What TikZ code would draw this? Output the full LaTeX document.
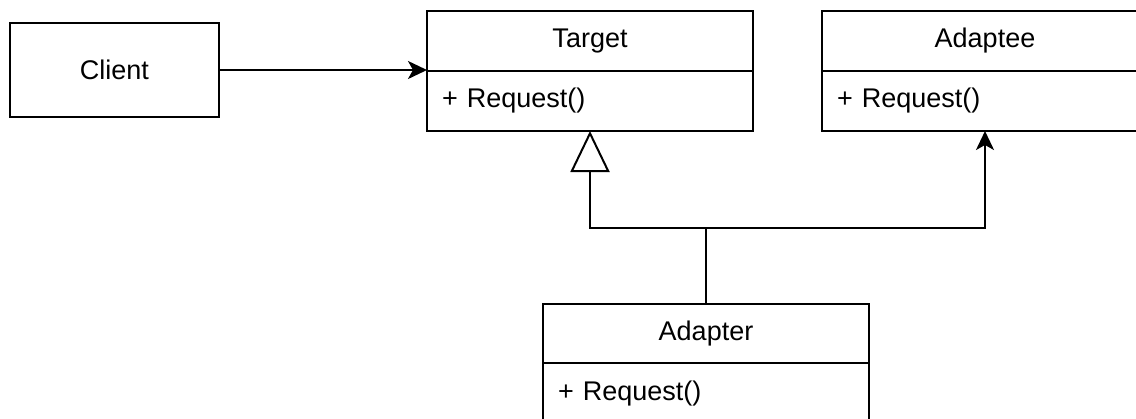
\documentclass[tikz,border=0pt]{standalone}
\usepackage{fontspec}
\setmainfont{Liberation Sans}
\usetikzlibrary{arrows.meta}
\tikzset{
  box/.style={draw, line width=2pt, fill=white, inner sep=0pt, outer sep=0pt, font=\fontsize{27}{32}\selectfont},
  title/.style={box, minimum width=326pt, minimum height=59.5pt},
  body/.style={box, minimum height=60.5pt, text width=296pt, inner xsep=15pt, align=left, anchor=north},
  link/.style={line width=2pt},
  assoc/.style={link, -{Stealth[length=19pt,width=18pt,inset=5pt]}},
  gen/.style={link, -{Triangle[open,length=41pt,width=39pt,fill=white]}}
}
\begin{document}
\begin{tikzpicture}[x=1pt,y=-1pt]
\useasboundingbox (0,0) rectangle (1136,418);
\clip (0,0) rectangle (1136,418);
\fill[white] (0,0) rectangle (1136,418);
% Client
\node[box, minimum width=209pt, minimum height=94pt] (client) at (114.5,70) {Client};
% Target
\node[title] (tgtT) at (590,40.75) {Target};
\node[body] (tgtB) at (tgtT.south) {+ Request()};
% Adaptee
\node[title] (adeT) at (985,40.75) {Adaptee};
\node[body] (adeB) at (adeT.south) {+ Request()};
% Adapter
\node[title] (adT) at (706,333.25) {Adapter};
\node[body] (adB) at (adT.south) {+ Request()};
% junction
\coordinate (j) at (706,228);
% connectors
\draw[assoc] (client.east) -- (client.east -| tgtT.west);
\draw[link] (adT.north) -- (j);
\draw[gen] (j) -| (tgtB.south);
\draw[assoc] (j) -| (adeB.south);
\end{tikzpicture}
\end{document}
